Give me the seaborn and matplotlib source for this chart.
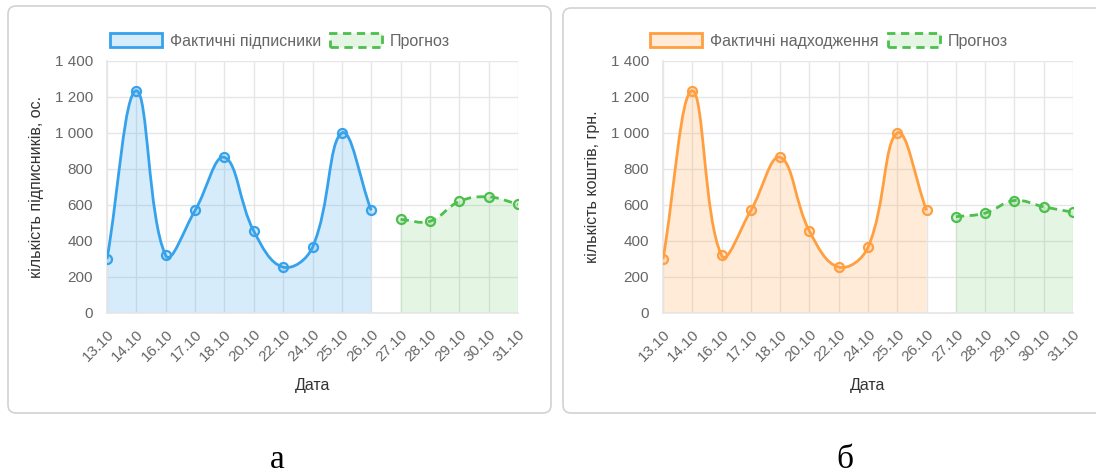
import numpy as np
import pandas as pd
import matplotlib
matplotlib.use("Agg")
import matplotlib.pyplot as plt
import matplotlib.ticker as ticker
from matplotlib.path import Path
from matplotlib.patches import PathPatch, Patch, FancyBboxPatch
import seaborn as sns

# Дані, прочитані з графіків
dates = ["13.10", "14.10", "16.10", "17.10", "18.10", "20.10", "22.10", "24.10",
         "25.10", "26.10", "27.10", "28.10", "29.10", "30.10", "31.10"]
subs_actual = [300, 1235, 320, 570, 865, 455, 255, 365, 1000, 570]
subs_forecast = [520, 510, 620, 645, 605]
funds_actual = [300, 1235, 320, 570, 865, 455, 255, 365, 1000, 570]
funds_forecast = [535, 555, 625, 590, 560]

BLUE = "#36A2EB"
BLUE_FILL = (54 / 255, 162 / 255, 235 / 255, 0.2)
ORANGE = "#FF9F40"
ORANGE_FILL = (255 / 255, 159 / 255, 64 / 255, 0.2)
GREEN = "#4CBF4C"
GREEN_FILL = (76 / 255, 191 / 255, 76 / 255, 0.15)
GRID = "#e6e6e6"
TICK_TXT = "#666666"
YMAX = 1400


def spline_path(xs, ys, sx, sy, t=0.4):
    """Крива Безьє з натягом t (як у chart.js), відстані рахуються в пікселях."""
    X = np.asarray(xs, float) * sx
    Y = np.asarray(ys, float) * sy
    n = len(X)
    c_prev, c_next = [], []
    for i in range(n):
        p = max(i - 1, 0)
        q = min(i + 1, n - 1)
        d01 = np.hypot(X[i] - X[p], Y[i] - Y[p])
        d12 = np.hypot(X[q] - X[i], Y[q] - Y[i])
        s01 = d01 / (d01 + d12) if d01 + d12 else 0
        s12 = d12 / (d01 + d12) if d01 + d12 else 0
        dx, dy = X[q] - X[p], Y[q] - Y[p]
        c_prev.append((X[i] - t * s01 * dx, np.clip(Y[i] - t * s01 * dy, 0, YMAX * sy)))
        c_next.append((X[i] + t * s12 * dx, np.clip(Y[i] + t * s12 * dy, 0, YMAX * sy)))
    verts = [(X[0], Y[0])]
    codes = [Path.MOVETO]
    for i in range(n - 1):
        verts += [c_next[i], c_prev[i + 1], (X[i + 1], Y[i + 1])]
        codes += [Path.CURVE4] * 3
    verts = [(vx / sx, vy / sy) for vx, vy in verts]
    return verts, codes


def draw_series(ax, xs, ys, line, fill, dashed=False):
    sx, sy = 411 / 14, 252 / YMAX
    verts, codes = spline_path(xs, ys, sx, sy)
    # Заливка під кривою
    fv = verts + [(xs[-1], 0), (xs[0], 0), verts[0]]
    fc = codes + [Path.LINETO, Path.LINETO, Path.CLOSEPOLY]
    ax.add_patch(PathPatch(Path(fv, fc), facecolor=fill, edgecolor="none", zorder=2))
    ax.add_patch(PathPatch(Path(verts, codes), facecolor="none", edgecolor=line,
                           lw=2, ls=(0, (3, 2)) if dashed else "-", zorder=3,
                           capstyle="butt"))
    df = pd.DataFrame({"x": xs, "y": ys})
    sns.scatterplot(data=df, x="x", y="y", ax=ax, s=42, color=fill,
                    edgecolor=line, linewidth=1.6, zorder=4, legend=False)


def make_panel(ax, actual, forecast, line, fill, ylabel, lab_x, actual_label):
    xa = list(range(len(actual)))
    xf = list(range(len(actual), len(actual) + len(forecast)))
    draw_series(ax, xa, actual, line, fill)
    draw_series(ax, xf, forecast, GREEN, GREEN_FILL, dashed=True)

    ax.set_xlim(0, len(dates) - 1)
    ax.set_ylim(0, YMAX)
    ax.set_xticks(range(len(dates)))
    ax.set_xticklabels(dates, rotation=45, ha="right", rotation_mode="anchor")
    ax.yaxis.set_major_locator(ticker.MultipleLocator(200))
    ax.yaxis.set_major_formatter(ticker.FuncFormatter(lambda v, p: f"{v:,.0f}".replace(",", " ")))
    ax.grid(True, color=GRID, lw=1, zorder=1)
    ax.set_axisbelow(True)
    ax.tick_params(axis="both", colors=GRID, labelcolor=TICK_TXT, labelsize=11,
                   length=7, width=1, pad=3)
    for side in ["top", "right"]:
        ax.spines[side].set_visible(False)
    for side in ["left", "bottom"]:
        ax.spines[side].set_color(GRID)
    ax.set_xlabel("Дата", fontsize=11.5, color="#333333")
    ax.xaxis.set_label_coords(0.5, -0.258)
    ax.set_ylabel(ylabel, fontsize=11.5, color="#333333")
    ax.yaxis.set_label_coords(lab_x, 0.5)

    handles = [Patch(facecolor=fill, edgecolor=line, lw=2, label=actual_label),
               Patch(facecolor=GREEN_FILL, edgecolor=GREEN, lw=2, ls=(0, (3, 2)), label="Прогноз")]
    return handles


sns.set_theme(style="white")
plt.rcParams["font.family"] = ["Liberation Sans", "DejaVu Sans"]

fig = plt.figure(figsize=(10.96, 4.76), dpi=100)

# Рамки панелей
for x0, y0, w, h in [(0.08, 0.63, 5.43, 4.07), (5.63, 0.63, 5.50, 4.05)]:
    fig.add_artist(FancyBboxPatch((x0, y0), w, h, boxstyle="round,pad=0,rounding_size=0.08",
                                  transform=fig.dpi_scale_trans, facecolor="white",
                                  edgecolor="#d2d2d2", lw=1.2, zorder=0))

ax1 = fig.add_axes([107 / 1096, 1 - 313 / 476, 411 / 1096, 252 / 476])
ax2 = fig.add_axes([663 / 1096, 1 - 313 / 476, 410 / 1096, 252 / 476])
ax1.patch.set_alpha(0)
ax2.patch.set_alpha(0)

h1 = make_panel(ax1, subs_actual, subs_forecast, BLUE, BLUE_FILL,
                "кількість підписників, ос.", -0.153, "Фактичні підписники")
h2 = make_panel(ax2, funds_actual, funds_forecast, ORANGE, ORANGE_FILL,
                "кількість коштів, грн.", -0.154, "Фактичні надходження")

for handles, cx in [(h1, 280), (h2, 829)]:
    fig.legend(handles=handles, loc="center", bbox_to_anchor=(cx / 1096, 1 - 41 / 476),
               ncol=2, frameon=False, fontsize=11.5, labelcolor=TICK_TXT,
               handlelength=3.25, handleheight=0.95, handletextpad=0.5, columnspacing=0.6)

fig.text(277 / 1096, 1 - 468 / 476, "а", ha="center", va="baseline", fontsize=24,
         family=["Liberation Serif", "DejaVu Serif"], color="black")
fig.text(845 / 1096, 1 - 468 / 476, "б", ha="center", va="baseline", fontsize=24,
         family=["Liberation Serif", "DejaVu Serif"], color="black")

fig.savefig("out.png", dpi=100)
